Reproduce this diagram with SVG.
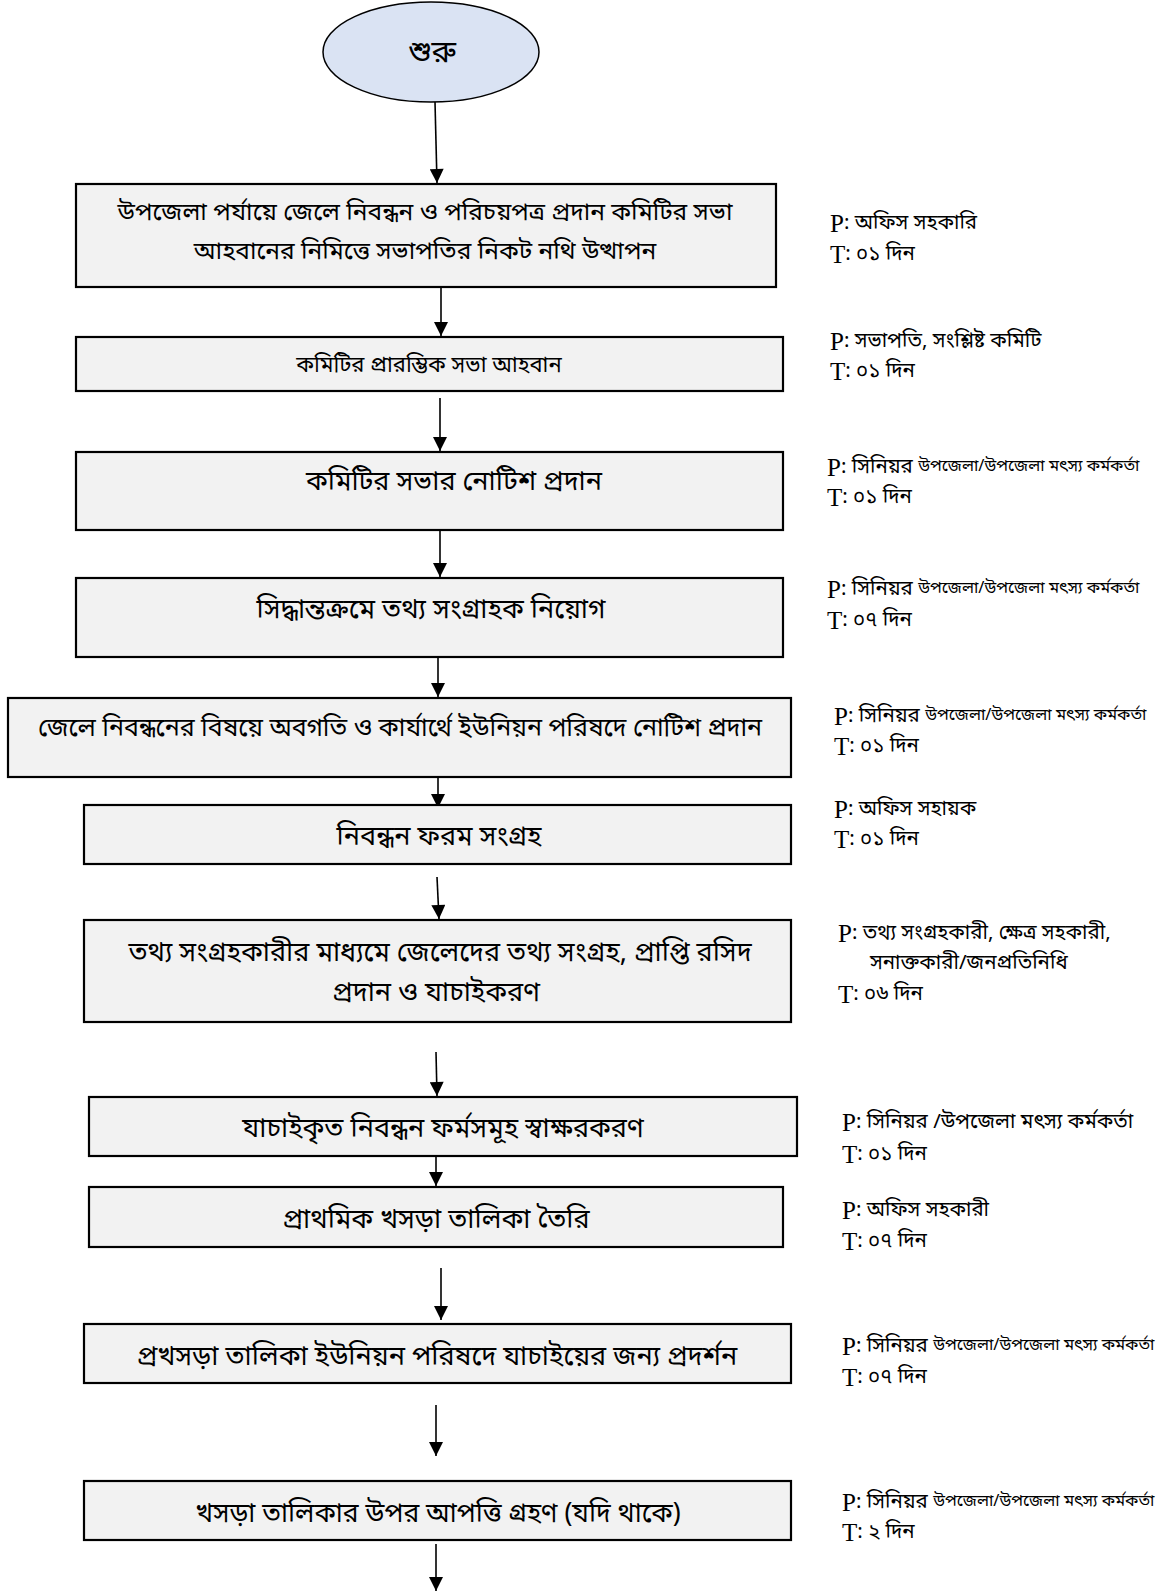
<svg xmlns="http://www.w3.org/2000/svg" width="1171" height="1591" viewBox="0 0 1171 1591">
<defs>
<marker id="ah" viewBox="0 0 10 10" refX="10" refY="5" markerWidth="16" markerHeight="14" markerUnits="userSpaceOnUse" orient="auto">
<path d="M0,0 L10,5 L0,10 z" fill="#000"/>
</marker>
<style>
.box{fill:#f2f2f2;stroke:#000;stroke-width:2.2}
.start{fill:#dae3f3;stroke:#000;stroke-width:1.5}
.t{font-family:"Noto Sans Bengali","Noto Sans","DejaVu Sans",sans-serif;fill:#000;text-anchor:middle;dominant-baseline:central}
.s{font-family:"Noto Sans Bengali","Noto Sans","DejaVu Sans",sans-serif;fill:#000;font-size:20.5px;dominant-baseline:central}
.pt{font-family:"Liberation Serif","Times New Roman",serif;font-size:25px}
.sm{font-size:16.5px}
.c{stroke:#000;stroke-width:1.6;fill:none;marker-end:url(#ah)}
</style>
</defs>
<rect width="1171" height="1591" fill="#fff"/>

<g id="connectors">
<line class="c" x1="435" y1="102" x2="437" y2="183"/>
<line class="c" x1="441" y1="288" x2="441" y2="336"/>
<line class="c" x1="440" y1="398" x2="440" y2="451"/>
<line class="c" x1="440" y1="517" x2="440" y2="577"/>
<line class="c" x1="438" y1="620" x2="438" y2="697"/>
<line class="c" x1="438" y1="775" x2="438" y2="808"/>
<line class="c" x1="437" y1="877" x2="439" y2="919"/>
<line class="c" x1="436" y1="1052" x2="437" y2="1096"/>
<line class="c" x1="436" y1="1123" x2="436" y2="1186"/>
<line class="c" x1="441" y1="1268" x2="441" y2="1320"/>
<line class="c" x1="436" y1="1405" x2="436" y2="1456"/>
<line class="c" x1="436" y1="1544" x2="436" y2="1591"/>
</g>

<g id="n0">
<ellipse class="start" cx="431" cy="52" rx="108" ry="50"/>
<text class="t" x="432" y="54" font-size="31">শুরু</text>
</g>

<g id="n1">
<rect class="box" x="76" y="184" width="700" height="103"/>
<text class="t" x="425" y="214" font-size="24.5">উপজেলা পর্যায়ে জেলে নিবন্ধন ও পরিচয়পত্র প্রদান কমিটির সভা</text>
<text class="t" x="425" y="253" font-size="24.5">আহবানের নিমিত্তে সভাপতির নিকট নথি উত্থাপন</text>
</g>
<g id="n2">
<rect class="box" x="76" y="337" width="707" height="54"/>
<text class="t" x="429" y="366" font-size="22">কমিটির প্রারম্ভিক সভা আহবান</text>
</g>
<g id="n3">
<rect class="box" x="76" y="452" width="707" height="78"/>
<text class="t" x="454" y="483" font-size="27">কমিটির সভার নোটিশ প্রদান</text>
</g>
<g id="n4">
<rect class="box" x="76" y="578" width="707" height="79"/>
<text class="t" x="431" y="611" font-size="27">সিদ্ধান্তক্রমে তথ্য সংগ্রাহক নিয়োগ</text>
</g>
<g id="n5">
<rect class="box" x="8" y="698" width="783" height="79"/>
<text class="t" x="400" y="729" font-size="25">জেলে নিবন্ধনের বিষয়ে অবগতি ও কার্যার্থে ইউনিয়ন পরিষদে নোটিশ প্রদান</text>
</g>
<g id="n6">
<rect class="box" x="84" y="805" width="707" height="59"/>
<text class="t" x="439" y="838" font-size="27">নিবন্ধন ফরম সংগ্রহ</text>
</g>
<g id="n7">
<rect class="box" x="84" y="920" width="707" height="102"/>
<text class="t" x="440" y="954" font-size="27">তথ্য সংগ্রহকারীর মাধ্যমে জেলেদের তথ্য সংগ্রহ, প্রাপ্তি রসিদ</text>
<text class="t" x="436" y="994" font-size="27">প্রদান ও যাচাইকরণ</text>
</g>
<g id="n8">
<rect class="box" x="89" y="1097" width="708" height="59"/>
<text class="t" x="443" y="1130" font-size="27">যাচাইকৃত নিবন্ধন ফর্মসমূহ স্বাক্ষরকরণ</text>
</g>
<g id="n9">
<rect class="box" x="89" y="1187" width="694" height="60"/>
<text class="t" x="436" y="1221" font-size="27">প্রাথমিক খসড়া তালিকা তৈরি</text>
</g>
<g id="n10">
<rect class="box" x="84" y="1324" width="707" height="59"/>
<text class="t" x="437" y="1358" font-size="27">প্রখসড়া তালিকা ইউনিয়ন পরিষদে যাচাইয়ের জন্য প্রদর্শন</text>
</g>
<g id="n11">
<rect class="box" x="84" y="1481" width="707" height="59"/>
<text class="t" x="438" y="1515" font-size="26.5">খসড়া তালিকার উপর আপত্তি গ্রহণ (যদি থাকে)</text>
</g>

<g id="labels">
<text class="s" x="830" y="223"><tspan class="pt">P</tspan>: অফিস সহকারি</text>
<text class="s" x="830" y="254"><tspan class="pt">T</tspan>: ০১ দিন</text>
<text class="s" x="830" y="341"><tspan class="pt">P</tspan>: সভাপতি, সংশ্লিষ্ট কমিটি</text>
<text class="s" x="830" y="371"><tspan class="pt">T</tspan>: ০১ দিন</text>
<text class="s" x="827" y="467"><tspan class="pt">P</tspan>: সিনিয়র <tspan class="sm">উপজেলা/উপজেলা মৎস্য কর্মকর্তা</tspan></text>
<text class="s" x="827" y="497"><tspan class="pt">T</tspan>: ০১ দিন</text>
<text class="s" x="827" y="589"><tspan class="pt">P</tspan>: সিনিয়র <tspan class="sm">উপজেলা/উপজেলা মৎস্য কর্মকর্তা</tspan></text>
<text class="s" x="827" y="620"><tspan class="pt">T</tspan>: ০৭ দিন</text>
<text class="s" x="834" y="716"><tspan class="pt">P</tspan>: সিনিয়র <tspan class="sm">উপজেলা/উপজেলা মৎস্য কর্মকর্তা</tspan></text>
<text class="s" x="834" y="746"><tspan class="pt">T</tspan>: ০১ দিন</text>
<text class="s" x="834" y="809"><tspan class="pt">P</tspan>: অফিস সহায়ক</text>
<text class="s" x="834" y="839"><tspan class="pt">T</tspan>: ০১ দিন</text>
<text class="s" x="838" y="933"><tspan class="pt">P</tspan>: তথ্য সংগ্রহকারী, ক্ষেত্র সহকারী,</text>
<text class="s" x="870" y="963">সনাক্তকারী/জনপ্রতিনিধি</text>
<text class="s" x="838" y="994"><tspan class="pt">T</tspan>: ০৬ দিন</text>
<text class="s" x="842" y="1122"><tspan class="pt">P</tspan>: সিনিয়র /উপজেলা মৎস্য কর্মকর্তা</text>
<text class="s" x="842" y="1154"><tspan class="pt">T</tspan>: ০১ দিন</text>
<text class="s" x="842" y="1210"><tspan class="pt">P</tspan>: অফিস সহকারী</text>
<text class="s" x="842" y="1241"><tspan class="pt">T</tspan>: ০৭ দিন</text>
<text class="s" x="842" y="1346"><tspan class="pt">P</tspan>: সিনিয়র <tspan class="sm">উপজেলা/উপজেলা মৎস্য কর্মকর্তা</tspan></text>
<text class="s" x="842" y="1377"><tspan class="pt">T</tspan>: ০৭ দিন</text>
<text class="s" x="842" y="1502"><tspan class="pt">P</tspan>: সিনিয়র <tspan class="sm">উপজেলা/উপজেলা মৎস্য কর্মকর্তা</tspan></text>
<text class="s" x="842" y="1532"><tspan class="pt">T</tspan>: ২ দিন</text>
</g>
</svg>
